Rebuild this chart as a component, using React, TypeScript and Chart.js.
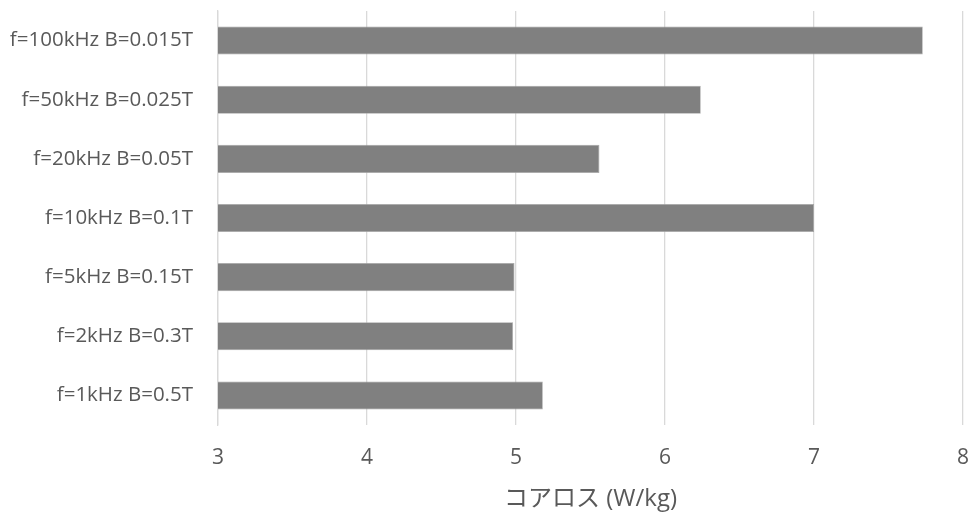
import React, { useEffect, useRef } from "react";
import { Chart, registerables } from "chart.js";

Chart.register(...registerables);

const categories = [
  "f=100kHz B=0.015T",
  "f=50kHz B=0.025T",
  "f=20kHz B=0.05T",
  "f=10kHz B=0.1T",
  "f=5kHz B=0.15T",
  "f=2kHz B=0.3T",
  "f=1kHz B=0.5T",
];
const coreLoss = [7.73, 6.24, 5.56, 7.0, 4.99, 4.98, 5.18];
const xTitle = "コアロス (W/kg)";
const xMin = 3;
const xMax = 8;

const FONT = "'Open Sans', 'Noto Sans CJK JP', sans-serif";

export default function App() {
  const ref = useRef<HTMLCanvasElement>(null);
  useEffect(() => {
    if (!ref.current) return;
    const chart = new Chart(ref.current, {
      type: "bar",
      data: {
        labels: categories,
        datasets: [
          {
            data: coreLoss,
            backgroundColor: "#808080",
            borderColor: "#a6a6a6",
            borderWidth: 0.75,
            borderSkipped: "left",
            categoryPercentage: 1,
            barPercentage: 0.475,
          },
        ],
      },
      options: {
        indexAxis: "y",
        animation: false,
        responsive: false,
        maintainAspectRatio: false,
        layout: { padding: { top: 11, right: 7, left: 0, bottom: 0 } },
        plugins: { legend: { display: false }, tooltip: { enabled: false } },
        scales: {
          x: {
            type: "linear",
            min: xMin,
            max: xMax,
            ticks: {
              stepSize: 1,
              padding: 0,
              color: "#595959",
              font: { family: FONT, size: 21 },
            },
            grid: {
              color: "#d9d9d9",
              lineWidth: 1.3,
              drawTicks: true,
              tickLength: 20,
              tickColor: "rgba(0,0,0,0)",
            },
            border: { display: false },
            title: {
              display: true,
              text: xTitle,
              color: "#595959",
              font: { family: FONT, size: 24 },
              padding: { top: 0, bottom: 5 },
            },
            afterFit: (s: any) => {
              s.height = 94;
            },
          },
          y: {
            type: "category",
            ticks: {
              padding: 0,
              color: "#595959",
              font: { family: FONT, size: 20.5, lineHeight: 1 },
            },
            grid: {
              display: true,
              drawOnChartArea: false,
              drawTicks: true,
              tickLength: 25,
              tickColor: "rgba(0,0,0,0)",
            },
            border: { display: true, color: "#d9d9d9", width: 1.3 },
            afterFit: (s: any) => {
              s.width = 218;
            },
          },
        },
      },
    });
    return () => chart.destroy();
  }, []);
  return (
    <div style={{ position: "absolute", left: 0, top: 0, width: 970, height: 519, background: "#fff" }}>
      <canvas ref={ref} width={970} height={519} style={{ width: 970, height: 519 }} />
    </div>
  );
}
